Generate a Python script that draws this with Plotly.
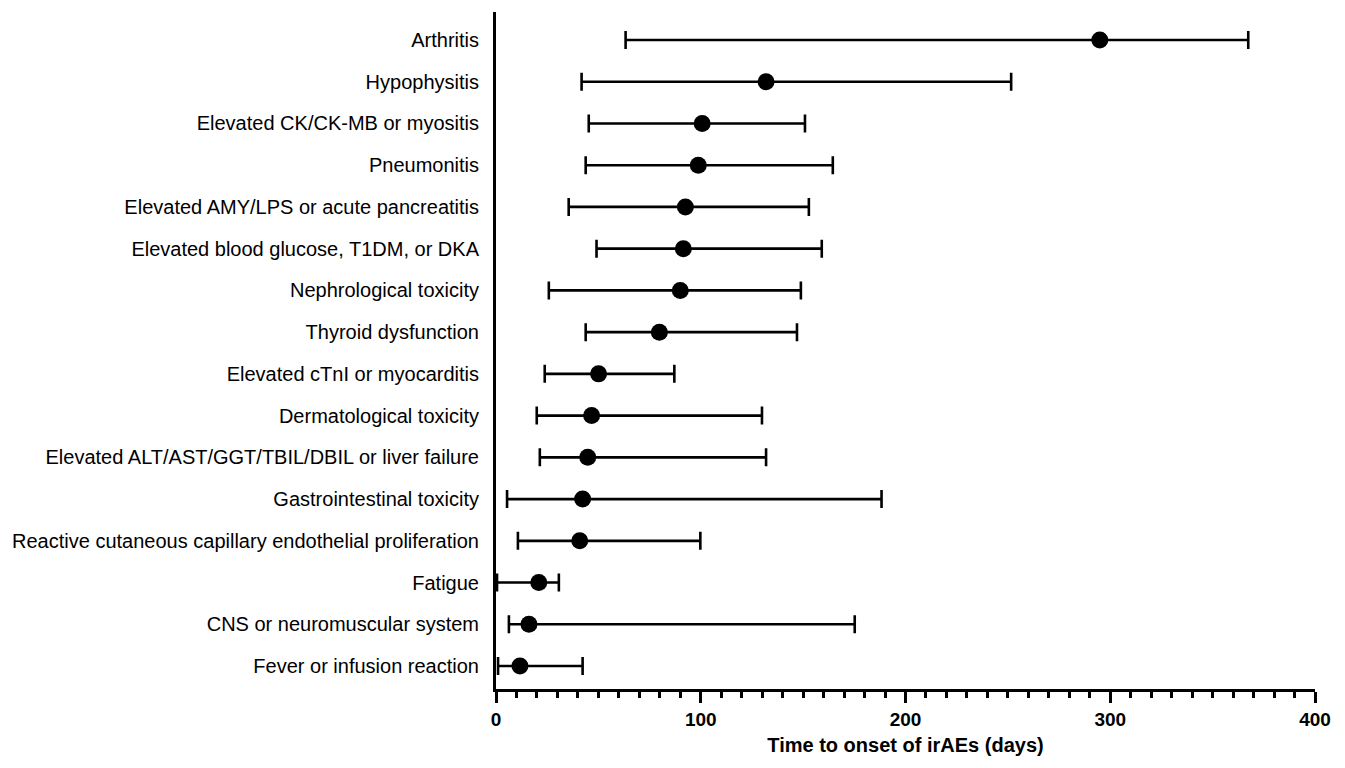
import plotly.graph_objects as go

categories = [
    "Fever or infusion reaction",
    "CNS or neuromuscular system",
    "Fatigue",
    "Reactive cutaneous capillary endothelial proliferation",
    "Gastrointestinal toxicity",
    "Elevated ALT/AST/GGT/TBIL/DBIL or liver failure",
    "Dermatological toxicity",
    "Elevated cTnI or myocarditis",
    "Thyroid dysfunction",
    "Nephrological toxicity",
    "Elevated blood glucose, T1DM, or DKA",
    "Elevated AMY/LPS or acute pancreatitis",
    "Pneumonitis",
    "Elevated CK/CK-MB or myositis",
    "Hypophysitis",
    "Arthritis",
]
median_days = [11.7, 16.1, 20.9, 40.9, 42.3, 44.8, 46.7, 50.1, 79.8, 90.0, 91.5, 92.5, 98.8, 100.7, 131.9, 294.9]
low_days = [1.0, 6.3, 0.5, 10.7, 5.4, 21.4, 19.9, 23.8, 43.8, 25.8, 49.1, 35.5, 43.8, 45.3, 41.8, 63.3]
high_days = [42.3, 175.2, 30.7, 99.8, 188.3, 131.9, 129.9, 87.1, 147.0, 148.9, 159.1, 152.8, 164.5, 150.9, 251.6, 367.4]

x_ticks = [0, 100, 200, 300, 400]

err_plus = [h - m for h, m in zip(high_days, median_days)]
err_minus = [m - l for m, l in zip(median_days, low_days)]

FONT = "Arial, Liberation Sans, Helvetica, sans-serif"

fig = go.Figure()
fig.add_trace(go.Scatter(
    x=median_days,
    y=categories,
    mode="markers",
    marker=dict(color="black", size=17),
    error_x=dict(
        type="data",
        symmetric=False,
        array=err_plus,
        arrayminus=err_minus,
        color="black",
        thickness=2.6,
        width=9,
    ),
    showlegend=False,
    cliponaxis=False,
))

fig.update_layout(
    width=1345,
    height=768,
    margin=dict(l=475, r=38, t=4, b=87),
    plot_bgcolor="white",
    paper_bgcolor="white",
    font=dict(family=FONT, color="black", size=20),
)

fig.update_xaxes(
    range=[0, 400],
    tickvals=x_ticks,
    ticktext=[str(v) for v in x_ticks],
    showgrid=False,
    zeroline=False,
    showline=True,
    linecolor="black",
    linewidth=3,
    ticks="outside",
    ticklen=11,
    tickwidth=3,
    tickcolor="black",
    tickfont=dict(family=FONT, size=19, weight="bold"),
    minor=dict(dtick=10, tick0=0, ticks="outside", ticklen=6, tickwidth=2.5, tickcolor="black", showgrid=False),
    title=dict(text="Time to onset of irAEs (days)", font=dict(family=FONT, size=20, weight="bold"), standoff=10),
)

fig.update_yaxes(
    type="category",
    categoryorder="array",
    categoryarray=categories,
    range=[-0.55, 15.67],
    showgrid=False,
    zeroline=False,
    showline=True,
    linecolor="black",
    linewidth=3,
    ticks="",
    ticklabelstandoff=10,
    tickfont=dict(family=FONT, size=20),
)

fig.write_html("out.html")
